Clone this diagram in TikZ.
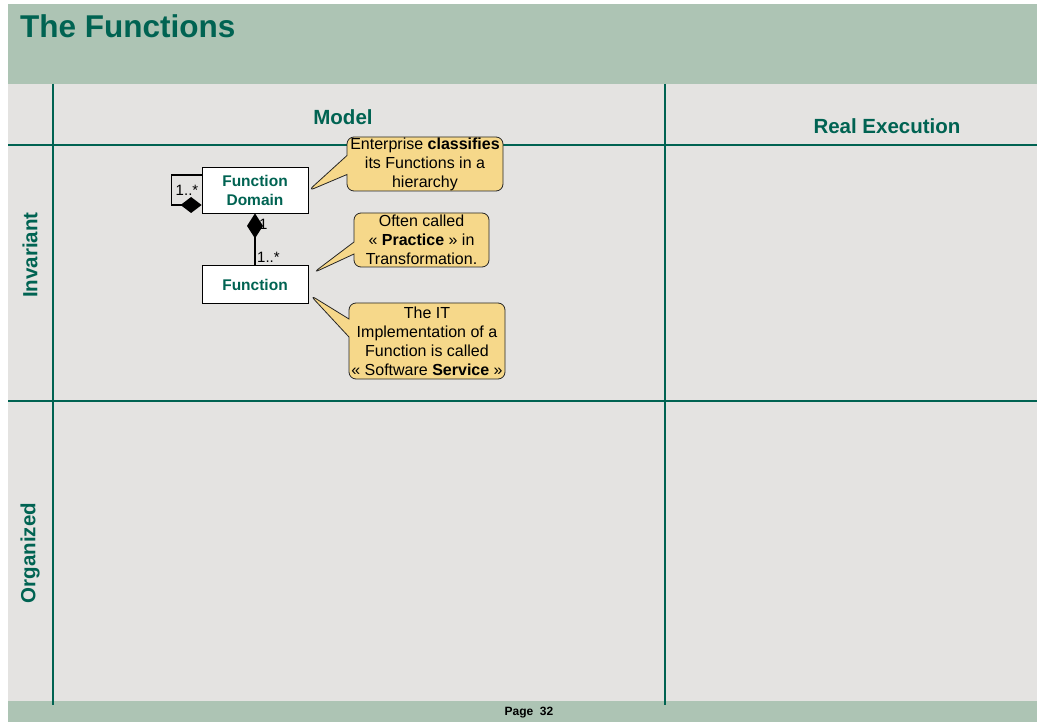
\documentclass[tikz,border=0pt]{standalone}
\usepackage{fontspec}
\setmainfont{Liberation Sans}
\usetikzlibrary{arrows.meta,shapes.callouts}
\definecolor{band}{RGB}{173,196,180}
\definecolor{panel}{RGB}{228,227,225}
\definecolor{teal}{RGB}{0,99,82}
\definecolor{note}{RGB}{246,216,138}
\begin{document}
\begin{tikzpicture}[x=1pt,y=-1pt,
  gridline/.style={draw=teal,line width=2pt},
  headtext/.style={text=teal,font=\fontsize{20.5}{24}\selectfont\bfseries},
  classbox/.style={draw=black,fill=white,line width=0.8pt,minimum width=106pt,
    inner sep=0pt,align=center,text=teal,font=\fontsize{15.5}{19}\selectfont\bfseries},
  notebox/.style={rectangle callout,draw=black!85,fill=note,line width=0.8pt,
    rounded corners=7pt,inner sep=0pt,align=center,
    font=\fontsize{16}{19}\selectfont,callout pointer width=16pt},
  mult/.style={inner sep=0pt,font=\fontsize{15}{17}\selectfont},
  assoc/.style={draw=black,line width=1.6pt}]
\useasboundingbox (0,0) rectangle (1037,722);
% page background and bands
\fill[white] (0,0) rectangle (1037,722);
\fill[band] (8,4) rectangle (1037,722);
\fill[panel] (8,84) rectangle (1037,701);
% table grid
\draw[gridline] (8,145) coordinate (h1l) -- (1037,145) coordinate (h1r);
\draw[gridline] (8,401) coordinate (h2l) -- (1037,401) coordinate (h2r);
\draw[gridline] (53,84) coordinate (v1t) -- (53,705) coordinate (v1b);
\draw[gridline] (665,84) coordinate (v2t) -- (665,705) coordinate (v2b);
% titles
\node[anchor=base west,inner sep=0pt,text=teal,font=\fontsize{31.5}{36}\selectfont\bfseries]
  (title) at (20,38) {The Functions};
\node[headtext] (model) at (343,117) {Model};
\node[headtext] (realexec) at (887,126) {Real Execution};
\node[headtext,rotate=90] (inv) at (30,255) {Invariant};
\node[headtext,rotate=90] (org) at (30,553) {Organized};
\node[font=\fontsize{12}{14}\selectfont\bfseries] (page) at (529,713) {Page~~32};
% classes
\node[classbox,minimum height=46pt] (dom) at (255,190) {Function\\Domain};
\node[classbox,minimum height=38pt] (fn) at (255,284.5) {Function};
% associations
\draw[assoc,{Diamond[length=21pt,width=16pt]}-] ([yshift=-15pt]dom.west)
  -- ++(-30,0) |- ([yshift=15pt]dom.west);
\node[mult] (loopm) at (187,190) {1..*};
\draw[assoc,{Diamond[length=25pt,width=16pt]}-] (dom.south) -- (fn.north);
\node[mult,anchor=west] (one) at (259,224) {1};
\node[mult,anchor=west] (many) at (257,257) {1..*};
% notes
\coordinate (p1) at (308,191);
\coordinate (p2) at (313,273);
\coordinate (p3) at (310,295);
\node[notebox,minimum width=156pt,minimum height=54pt,callout pointer width=19pt,
  callout absolute pointer={(p1)}]
  (n1) at (425,164) {Enterprise \textbf{classifies}\\its Functions in a\\hierarchy};
\node[notebox,minimum width=135pt,minimum height=54pt,callout pointer width=12pt,
  callout absolute pointer={(p2)}]
  (n2) at (421.5,240) {Often called\\« \textbf{Practice} » in\\Transformation.};
\node[notebox,minimum width=156pt,minimum height=76pt,callout pointer width=18pt,
  callout absolute pointer={(p3)}]
  (n3) at (427,341) {The IT\\Implementation of a\\Function is called\\« Software \textbf{Service} »};
\end{tikzpicture}
\end{document}
